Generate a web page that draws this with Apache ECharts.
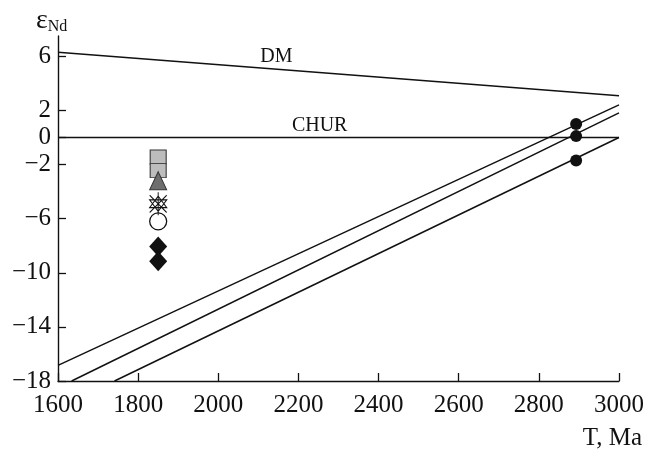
<!DOCTYPE html>
<html>
<head>
<meta charset="utf-8">
<script src="https://cdn.jsdelivr.net/npm/echarts@6/dist/echarts.min.js"></script>
<style>
html,body{margin:0;padding:0;background:#fff;}
#main{width:647px;height:451px;}
</style>
</head>
<body>
<div id="main"></div>
<script>
// ---- data ----
const xTicks = [1600, 1800, 2000, 2200, 2400, 2600, 2800, 3000];
const yTicks = [6, 2, 0, -2, -6, -10, -14, -18];

const sampleAge = 1850;
const squareVals = [-1.45, -2.45];
const triangleVals = [-3.2];
const starVals = [-4.9];
const openCircleVals = [-6.2];
const diamondVals = [-8.05, -9.15];

const baseAge = 2893;
const filledCircleVals = [1.0, 0.1, -1.7];

const dmLine = [[1600, 6.3], [3000, 3.08]];
const churLine = [[1600, 0], [3000, 0]];
const evoLineA = [[1600, -16.84], [3000, 2.41]];
const evoLineB = [[1634, -18], [3000, 1.82]];
const evoLineC = [[1741, -18], [3000, 0]];

const dmLabel = { name: 'DM', coord: [2145, 6.0] };
const churLabel = { name: 'CHUR', coord: [2253, 0.84] };

// ---- chart ----
const FONT = 'Liberation Serif';
const INK = '#111';
const chart = echarts.init(document.getElementById('main'));

function pts(vals, x) { return vals.map(v => [x, v]); }

function lineSeries(data, extra) {
  return Object.assign({
    type: 'line', data: data, symbol: 'none', silent: true,
    lineStyle: { color: INK, width: 1.5, opacity: 1 }, z: 2
  }, extra || {});
}

function textMark(lbl) {
  return {
    silent: true, symbol: 'circle', symbolSize: 0,
    label: { show: true, position: 'inside', formatter: lbl.name,
             fontFamily: FONT, fontSize: 20, color: INK },
    data: [{ coord: lbl.coord }]
  };
}

const starPath = 'path://M10 0 L10 24 M3 3 L17 21 M17 3 L3 21 M3 8 L17 8 L10 20 Z M3 16 L17 16 L10 4 Z';

chart.setOption({
  animation: false,
  backgroundColor: '#fff',
  textStyle: { fontFamily: FONT },
  title: [
    { text: '{e|ε}{s|Nd}', left: 31, top: 0,
      textStyle: { fontWeight: 'normal', rich: {
        e: { fontFamily: FONT, fontSize: 28, fontWeight: 'normal', color: INK, verticalAlign: 'bottom' },
        s: { fontFamily: FONT, fontSize: 16, fontWeight: 'normal', color: INK, padding: [14, 0, 0, 0], verticalAlign: 'bottom' }
      } } },
    { text: 'T, Ma', right: 0, top: 421,
      textStyle: { fontFamily: FONT, fontSize: 25, fontWeight: 'normal', color: INK } }
  ],
  grid: { left: 58, right: 24, top: 36, bottom: 70, containLabel: false },
  xAxis: {
    type: 'value', min: 1600, max: 3000, interval: 200,
    axisLine: { show: true, onZero: false, lineStyle: { color: INK, width: 1.4 } },
    axisTick: { show: true, inside: true, length: 8, customValues: xTicks,
                lineStyle: { color: INK, width: 1.3 } },
    axisLabel: { margin: 12, fontFamily: FONT, fontSize: 25, color: INK,
                 customValues: xTicks, formatter: v => String(v) },
    splitLine: { show: false }
  },
  yAxis: {
    type: 'value', min: -18, max: 7.5,
    axisLine: { show: true, onZero: false, lineStyle: { color: INK, width: 1.4 } },
    axisTick: { show: true, inside: true, length: 8, customValues: yTicks,
                lineStyle: { color: INK, width: 1.3 } },
    axisLabel: { margin: 7, fontFamily: FONT, fontSize: 25, color: INK,
                 customValues: yTicks,
                 formatter: v => (v < 0 ? '\u2212' + Math.abs(v) : String(v)) },
    splitLine: { show: false }
  },
  series: [
    lineSeries(dmLine, { markPoint: textMark(dmLabel) }),
    lineSeries(churLine, { markPoint: textMark(churLabel) }),
    lineSeries(evoLineA),
    lineSeries(evoLineB),
    lineSeries(evoLineC),
    { type: 'scatter', data: pts(squareVals, sampleAge), symbol: 'rect', symbolSize: [16, 14],
      itemStyle: { color: '#bdbdbd', borderColor: '#333', borderWidth: 1, opacity: 1 }, z: 3 },
    { type: 'scatter', data: pts(triangleVals, sampleAge), symbol: 'triangle', symbolSize: [17, 18],
      itemStyle: { color: '#6e6e6e', borderColor: '#333', borderWidth: 1, opacity: 1 }, z: 4 },
    { type: 'scatter', data: pts(starVals, sampleAge), symbol: starPath, symbolSize: [17, 23],
      itemStyle: { color: 'rgba(0,0,0,0)', borderColor: INK, borderWidth: 1.1, opacity: 1 }, z: 4 },
    { type: 'scatter', data: pts(openCircleVals, sampleAge), symbol: 'circle', symbolSize: 17,
      itemStyle: { color: '#fff', borderColor: INK, borderWidth: 1.3, opacity: 1 }, z: 3 },
    { type: 'scatter', data: pts(diamondVals, sampleAge), symbol: 'diamond', symbolSize: [18, 20],
      itemStyle: { color: INK, opacity: 1 }, z: 3 },
    { type: 'scatter', data: pts(filledCircleVals, baseAge), symbol: 'circle', symbolSize: 12,
      itemStyle: { color: INK, opacity: 1 }, z: 5 }
  ]
});
</script>
</body>
</html>
